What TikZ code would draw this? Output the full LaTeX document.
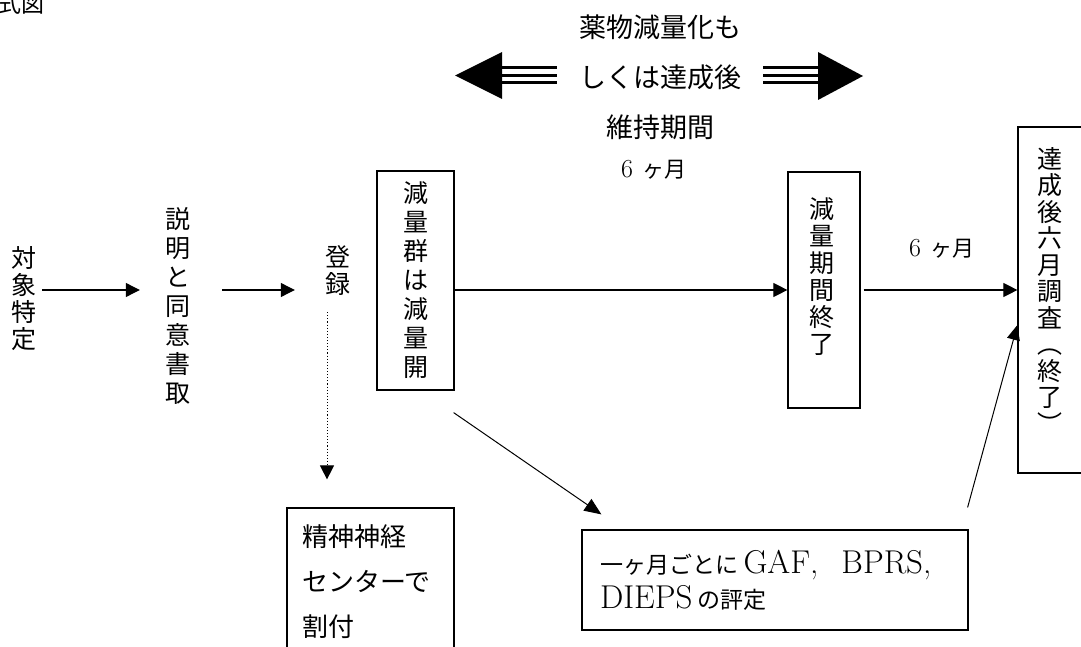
\documentclass[tikz,border=0pt]{standalone}
\usepackage{fontspec}
\newfontfamily\jp{Noto Sans CJK JP}
\usetikzlibrary{calc,arrows.meta}
\newcommand{\jtxt}[1]{{\jp\fontsize{23}{35}\selectfont #1}}
\newcommand{\months}{6\hspace{10pt}{\jp\fontsize{22}{22}\selectfont ヶ月}}

\begin{document}
\begin{tikzpicture}[x=1pt,y=-1pt,
    tate/.style={align=center,inner sep=0pt,font=\jp\fontsize{25}{#1}\selectfont},
    tate/.default=28,
    box/.style={draw,line width=1.2pt,inner sep=0pt},
    arr/.style={line width=1.1pt,-{Triangle[length=14pt,width=14pt]}},
    month/.style={inner sep=0pt,font=\fontsize{26}{26}\selectfont},
    fat/.style={line width=3pt}]
  \useasboundingbox (0,0) rectangle (1081,647);
  \coordinate (axis) at (0,290);

  % heading, runs off the page corner
  \node[anchor=west,inner sep=0pt,font=\jp\fontsize{23}{23}\selectfont] (title) at (-2,4) {式図};

  % period text with the two fat arrows
  \node[inner sep=0pt,align=center,font=\jp\fontsize{27}{50}\selectfont] (period) at (660,77)
    {薬物減量化も\\しくは達成後\\維持期間};
  \node[month] (pmonths) at (654,170) {\months};
  \foreach \d in {-7.5,0,7.5} {
    \draw[fat] (502,75.5+\d) -- (557,75.5+\d);
    \draw[fat] (763,75.5+\d) -- (818,75.5+\d);
  }
  \fill (455,75.5) -- (502,52) -- (502,99) -- cycle;
  \fill (863,76) -- (818,52) -- (818,100) -- cycle;

  % main flow
  \node[tate=27] (target) at (24,299) {対\\象\\特\\定};
  \node[tate=29] (consent) at (178,306) {説\\明\\と\\同\\意\\書\\取};
  \node[tate=27] (entry) at (338,271) {登\\録};
  \node[box,tate=29,minimum width=77pt,minimum height=219pt] (group) at (415.5,280.5)
    {減\\量\\群\\は\\減\\量\\開};
  \node[box,minimum width=72pt,minimum height=236pt] (endbox) at (824,290) {};
  \node[tate=27] (endtext) at (822,277) {減\\量\\期\\間\\終\\了};
  \node[box,minimum width=90pt,minimum height=346pt] (final) at (1063,300) {};
  \node[tate=26.5] (finaltext) at (1050,290) {達\\成\\後\\六\\月\\調\\査\\︵\\終\\了\\︶};
  \node[month] (fmonths) at (942,249) {\months};

  % lower boxes
  \node[box,minimum width=167pt,minimum height=200pt] (alloc) at (370.5,608) {};
  \node[anchor=north west,inner sep=0pt,align=left,font=\jp\fontsize{26}{45}\selectfont] (alloctext)
    at (302,524) {精神神経\\センターで\\割付};
  \node[box,minimum width=386pt,minimum height=100pt,inner xsep=18pt,align=left,text width=350pt,
    font=\fontsize{33}{35}\selectfont] (rating) at (775,580)
    {\jtxt{一ヶ月ごとに}\,GAF,\jtxt{　}BPRS,\\DIEPS\,\jtxt{の評定}};

  % connectors
  \draw[arr,shorten <=5.5pt,shorten >=25.5pt] (target.east |- axis) -- (consent.west |- axis);
  \draw[arr,shorten <=31.5pt,shorten >=30.5pt] (consent.east |- axis) -- (entry.west |- axis);
  \draw[arr] (group.east |- axis) -- (endbox.west |- axis);
  \draw[arr,shorten <=3pt] (endbox.east |- axis) -- (final.west |- axis);
  \draw[arr,dotted,line width=1pt,shorten <=16pt,shorten >=28pt]
    ([xshift=-11pt]entry.south) -- ([xshift=-11pt]entry.south |- alloc.north);
  \draw[arr,line width=1pt,-{Triangle[length=17pt,width=14pt]}]
    ($(group.south east)+(-1,22)$) -- ($(rating.north west)+(20,-15)$);
  \draw[arr,line width=1pt,-{Triangle[length=15pt,width=13pt]}]
    ($(rating.north east)+(-1,-22)$) -- ($(final.west)+(0,25)$);
\end{tikzpicture}
\end{document}
